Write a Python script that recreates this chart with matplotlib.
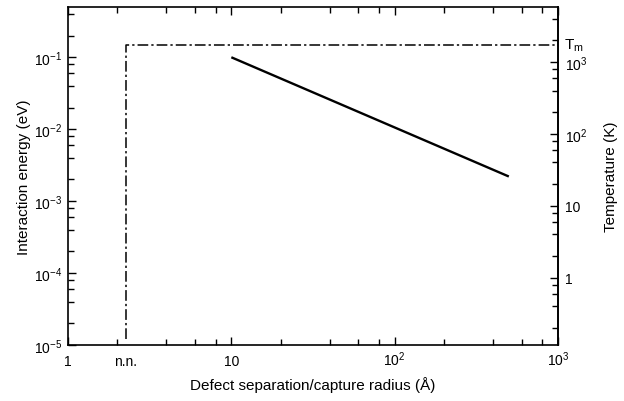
import numpy as np
import matplotlib
matplotlib.use("Agg")
import matplotlib.pyplot as plt
from matplotlib.ticker import FixedLocator, NullFormatter
from matplotlib.transforms import ScaledTranslation

plt.rcParams['font.family'] = ['Liberation Sans', 'DejaVu Sans']
plt.rcParams['mathtext.fontset'] = 'custom'
plt.rcParams['mathtext.rm'] = 'Liberation Sans'
plt.rcParams['mathtext.it'] = 'Liberation Sans:italic'

# Interaction energy versus defect separation (E ~ 1/r)
separation = [10, 500]          # Å
energy = [0.10, 0.0022]         # eV

# Melting-temperature boundary and nearest-neighbour cutoff
nn_separation = 2.25            # Å
melt_energy = 0.15              # eV
boundary_x = [nn_separation, nn_separation, 1000]
boundary_y = [1.2e-5, melt_energy, melt_energy]

x_ticks = [1, 10, 100, 1000]
x_ticklabels = ['1', '10', r'$10^2$', r'$10^3$']
y_ticks = [1e-5, 1e-4, 1e-3, 1e-2, 1e-1]
y_ticklabels = [r'$10^{-5}$', r'$10^{-4}$', r'$10^{-3}$', r'$10^{-2}$', r'$10^{-1}$']
t_ticks = [1, 10, 100, 1000]
t_ticklabels = ['1', '10', r'$10^2$', r'$10^3$']

K_PER_EV = 1.0 / 8.617e-5

TICK_FS = 10
LABEL_FS = 11
XLABEL_BASELINE_PT = 14.5   # distance from x axis to tick-label baseline

fig = plt.figure(figsize=(6.24, 4.02), dpi=100)
ax = fig.add_axes([68 / 624, 56 / 402, 490 / 624, 338 / 402])

ax.plot(separation, energy, color='black', lw=1.7, solid_capstyle='butt')
ax.plot(boundary_x, boundary_y, color='black', lw=1.1,
        linestyle=(0, (7, 2, 1.5, 2)))

ax.set_xscale('log')
ax.set_yscale('log')
ax.set_xlim(1, 1000)
ax.set_ylim(1e-5, 0.5)

def minor_positions(lo, hi):
    out = []
    d = lo
    while d < hi:
        out += [m * d for m in (2, 4, 6, 8)]
        d *= 10
    return out

ax.xaxis.set_major_locator(FixedLocator(x_ticks))
ax.set_xticklabels(x_ticklabels)
ax.xaxis.set_minor_locator(FixedLocator(minor_positions(1, 1000)))
ax.xaxis.set_minor_formatter(NullFormatter())
ax.yaxis.set_major_locator(FixedLocator(y_ticks))
ax.set_yticklabels(y_ticklabels)
ax.yaxis.set_minor_locator(FixedLocator(minor_positions(1e-5, 0.5)))
ax.yaxis.set_minor_formatter(NullFormatter())

ax.tick_params(which='both', direction='in', top=True, right=False,
               labelsize=TICK_FS, width=1.0)
ax.tick_params(axis='x', pad=XLABEL_BASELINE_PT)
ax.tick_params(axis='y', pad=4)
ax.tick_params(which='major', length=6)
ax.tick_params(which='minor', length=4)

# align x tick labels on their baselines so plain and powered labels sit level
for lbl in ax.get_xticklabels():
    lbl.set_verticalalignment('baseline')

for s in ax.spines.values():
    s.set_linewidth(1.2)

# n.n. label under the cutoff line, on the same baseline as the tick labels
ax.text(nn_separation, 0, 'n.n.', ha='center', va='baseline', fontsize=TICK_FS,
        transform=ax.get_xaxis_transform() +
        ScaledTranslation(0, -XLABEL_BASELINE_PT / 72, fig.dpi_scale_trans))

ax.set_xlabel('Defect separation/capture radius (Å)', fontsize=LABEL_FS)
ax.xaxis.set_label_coords(0.5, -0.093)
ax.set_ylabel('Interaction energy (eV)', fontsize=LABEL_FS)
ax.yaxis.set_label_coords(-0.076, 0.5)

# Temperature scale on the right (T = E / k_B)
sec = ax.secondary_yaxis('right', functions=(lambda e: e * K_PER_EV,
                                             lambda t: t / K_PER_EV))
sec.yaxis.set_major_locator(FixedLocator(t_ticks))
sec.set_yticklabels(t_ticklabels)
sec.yaxis.set_minor_locator(FixedLocator(minor_positions(0.1, 10000)))
sec.yaxis.set_minor_formatter(NullFormatter())
sec.tick_params(which='both', direction='in', labelsize=TICK_FS, width=1.0, pad=5)
sec.tick_params(which='major', length=6)
sec.tick_params(which='minor', length=4)
sec.set_ylabel('Temperature (K)', fontsize=LABEL_FS, labelpad=12)
sec.spines['right'].set_linewidth(1.2)

ax.text(1.012, melt_energy, r'T$_\mathrm{m}$', transform=ax.get_yaxis_transform(),
        ha='left', va='center', fontsize=11)

fig.savefig('out.png', dpi=100)
